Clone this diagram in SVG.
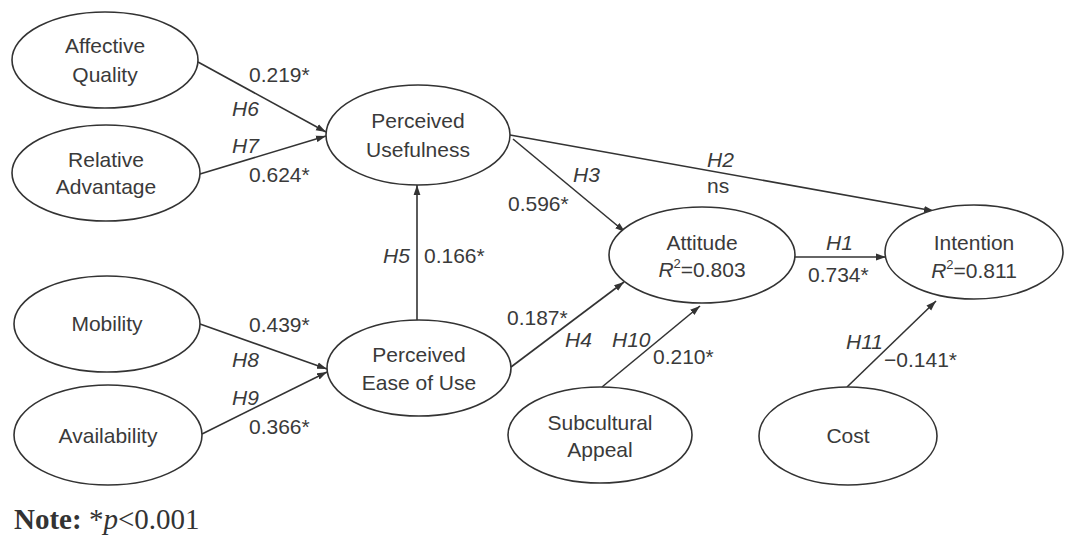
<svg xmlns="http://www.w3.org/2000/svg" width="1065" height="535" viewBox="0 0 1065 535">
  <style>
    .node ellipse { fill: #ffffff; stroke: #333333; stroke-width: 1.6; }
    .node text { font-family: "Liberation Sans", Arial, sans-serif; font-size: 21px; fill: #3a3a3a; text-anchor: middle; }
    .edge { stroke: #333333; stroke-width: 1.6; fill: none; marker-end: url(#arrow); }
    .lbl { font-family: "Liberation Sans", Arial, sans-serif; font-size: 21px; fill: #3a3a3a; }
    .hyp { font-style: italic; }
    .note { font-family: "Liberation Serif", "Times New Roman", serif; font-size: 29px; fill: #333333; }
  </style>
  <defs>
    <marker id="arrow" markerUnits="userSpaceOnUse" markerWidth="11" markerHeight="8" refX="10" refY="4" orient="auto">
      <path d="M0,0.6 L10,4 L0,7.4 Z" fill="#333333"/>
    </marker>
  </defs>

  <rect x="0" y="0" width="1065" height="535" fill="#ffffff"/>

  <!-- paths between constructs -->
  <g id="connectors">
    <line class="edge" x1="198" y1="62" x2="326" y2="132"/>
    <line class="edge" x1="200" y1="174" x2="326" y2="136"/>
    <line class="edge" x1="510" y1="135" x2="934" y2="211"/>
    <line class="edge" x1="513" y1="139" x2="625" y2="232"/>
    <line class="edge" x1="417" y1="320" x2="417" y2="185"/>
    <line class="edge" x1="795" y1="257" x2="886" y2="257"/>
    <line class="edge" x1="511" y1="367" x2="624" y2="282"/>
    <line class="edge" x1="602" y1="387" x2="700" y2="306"/>
    <line class="edge" x1="847" y1="387" x2="936" y2="301"/>
    <line class="edge" x1="200" y1="324" x2="327" y2="369"/>
    <line class="edge" x1="202" y1="434" x2="327" y2="372"/>
  </g>

  <!-- path coefficients and hypothesis labels -->
  <g id="edge-labels">
    <text class="lbl" x="249" y="82">0.219*</text>
    <text class="lbl hyp" x="232" y="116">H6</text>
    <text class="lbl hyp" x="232" y="153">H7</text>
    <text class="lbl" x="249" y="182">0.624*</text>
    <text class="lbl hyp" x="573" y="182">H3</text>
    <text class="lbl" x="508" y="211">0.596*</text>
    <text class="lbl hyp" x="383" y="263">H5</text>
    <text class="lbl" x="424" y="263">0.166*</text>
    <text class="lbl hyp" x="707" y="167">H2</text>
    <text class="lbl" x="707" y="193">ns</text>
    <text class="lbl hyp" x="826" y="250">H1</text>
    <text class="lbl" x="808" y="282">0.734*</text>
    <text class="lbl" x="507" y="325">0.187*</text>
    <text class="lbl hyp" x="565" y="347">H4</text>
    <text class="lbl hyp" x="612" y="347">H10</text>
    <text class="lbl" x="653" y="364">0.210*</text>
    <text class="lbl hyp" x="846" y="349">H11</text>
    <text class="lbl" x="884" y="367">−0.141*</text>
    <text class="lbl" x="249" y="332">0.439*</text>
    <text class="lbl hyp" x="232" y="367">H8</text>
    <text class="lbl hyp" x="232" y="405">H9</text>
    <text class="lbl" x="249" y="434">0.366*</text>
  </g>

  <g id="affective-quality" class="node">
    <ellipse cx="105" cy="60" rx="93" ry="48"/>
    <text x="105" y="53">Affective</text>
    <text x="105" y="82">Quality</text>
  </g>
  <g id="relative-advantage" class="node">
    <ellipse cx="106" cy="173" rx="94" ry="48"/>
    <text x="106" y="167">Relative</text>
    <text x="106" y="194">Advantage</text>
  </g>
  <g id="perceived-usefulness" class="node">
    <ellipse cx="418" cy="135" rx="92" ry="50"/>
    <text x="418" y="128">Perceived</text>
    <text x="418" y="157">Usefulness</text>
  </g>
  <g id="mobility" class="node">
    <ellipse cx="107" cy="324" rx="93" ry="48"/>
    <text x="107" y="331">Mobility</text>
  </g>
  <g id="availability" class="node">
    <ellipse cx="108" cy="435" rx="94" ry="50"/>
    <text x="108" y="443">Availability</text>
  </g>
  <g id="perceived-ease-of-use" class="node">
    <ellipse cx="419" cy="368" rx="92" ry="48"/>
    <text x="419" y="362">Perceived</text>
    <text x="419" y="390">Ease of Use</text>
  </g>
  <g id="attitude" class="node">
    <ellipse cx="702" cy="255" rx="93" ry="48"/>
    <text x="702" y="250">Attitude</text>
    <text x="702" y="277"><tspan font-style="italic">R</tspan><tspan font-size="13" dy="-9">2</tspan><tspan dy="9">=0.803</tspan></text>
  </g>
  <g id="intention" class="node">
    <ellipse cx="974" cy="252" rx="89" ry="47"/>
    <text x="974" y="250">Intention</text>
    <text x="974" y="278"><tspan font-style="italic">R</tspan><tspan font-size="13" dy="-9">2</tspan><tspan dy="9">=0.811</tspan></text>
  </g>
  <g id="subcultural-appeal" class="node">
    <ellipse cx="600" cy="435" rx="92" ry="48"/>
    <text x="600" y="430">Subcultural</text>
    <text x="600" y="457">Appeal</text>
  </g>
  <g id="cost" class="node">
    <ellipse cx="848" cy="436" rx="89" ry="49"/>
    <text x="848" y="443">Cost</text>
  </g>

  <text class="note" x="14" y="529"><tspan font-weight="bold">Note:</tspan> *<tspan font-style="italic">p</tspan>&lt;0.001</text>
</svg>
